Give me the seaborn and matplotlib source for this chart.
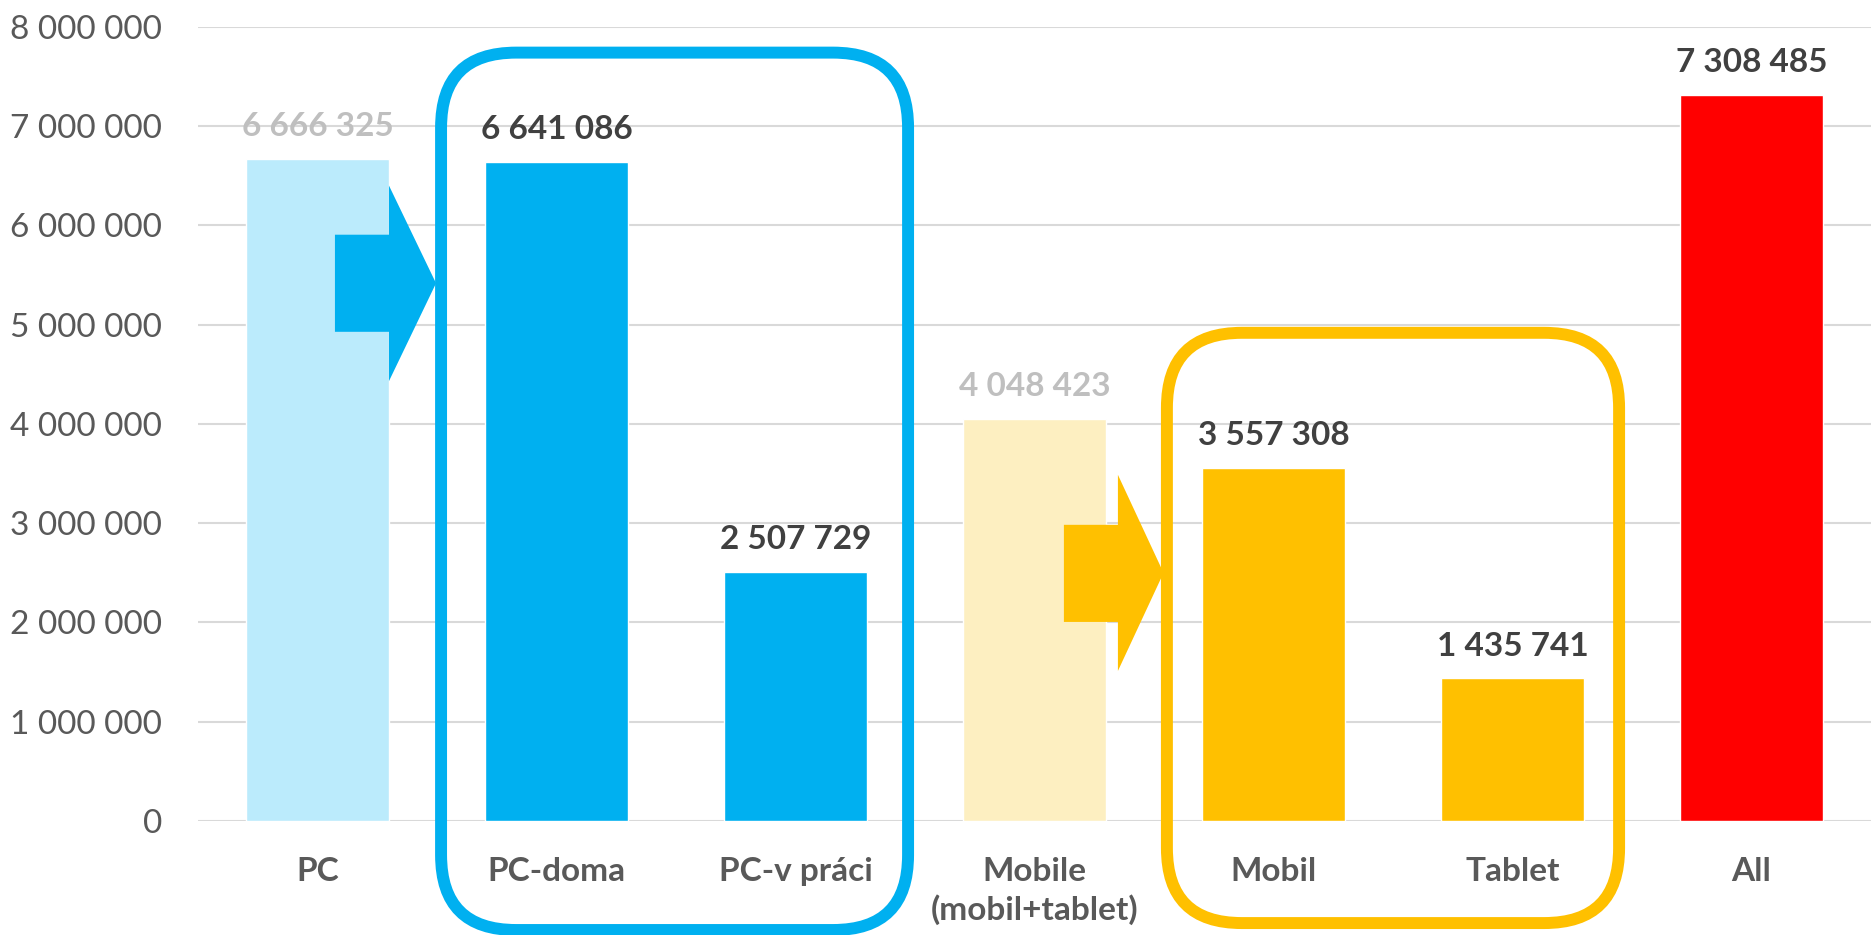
import matplotlib
matplotlib.use("Agg")
import matplotlib.pyplot as plt
import seaborn as sns
from matplotlib.patches import FancyBboxPatch, Polygon
from matplotlib.transforms import IdentityTransform
from matplotlib.ticker import FuncFormatter, MultipleLocator

categories = ["PC", "PC-doma", "PC-v práci", "Mobile\n(mobil+tablet)", "Mobil", "Tablet", "All"]
values = [6666325, 6641086, 2507729, 4048423, 3557308, 1435741, 7308485]
bar_colors = ["#BBEBFC", "#00B0F0", "#00B0F0", "#FDEFC1", "#FFC000", "#FFC000", "#FF0000"]
label_colors = ["#BFBFBF", "#404040", "#404040", "#BFBFBF", "#404040", "#404040", "#404040"]

sns.set_style("white")
plt.rcParams["font.family"] = ["Lato", "Liberation Sans", "DejaVu Sans"]

fig = plt.figure(figsize=(18.72, 9.35), dpi=100)
ax = fig.add_axes([198 / 1872, 1 - 821 / 935, 1673 / 1872, (821 - 26.7) / 935])

sns.barplot(x=categories, y=values, hue=categories, palette=bar_colors,
            legend=False, width=0.6, saturation=1, ax=ax, zorder=2)

ax.set_xlim(-0.5, len(categories) - 0.5)
ax.set_ylim(0, 8000000)
ax.yaxis.set_major_locator(MultipleLocator(1000000))
ax.yaxis.set_major_formatter(FuncFormatter(lambda v, p: f"{v:,.0f}".replace(",", " ")))
ax.grid(axis="y", color="#D9D9D9", linewidth=1.5, zorder=0)
ax.set_axisbelow(True)
sns.despine(ax=ax, left=True, bottom=True)
ax.tick_params(axis="both", length=0)
ax.tick_params(axis="y", labelsize=24, labelcolor="#595959", pad=26)
ax.tick_params(axis="x", labelsize=24, labelcolor="#595959", pad=26)
for t in ax.get_xticklabels():
    t.set_fontweight("bold")
    t.set_linespacing(1.3)
ax.set_xlabel("")
ax.set_ylabel("")

# value labels
for i, v in enumerate(values):
    ax.annotate(f"{v:,}".replace(",", " "), (i, v), xytext=(0, 16.5),
                textcoords="offset points", ha="center", va="baseline",
                fontsize=24, fontweight="bold", color=label_colors[i])

# arrows from parent bar to the group
blue_arrow = [(0.073, 4.927e6), (0.299, 4.927e6), (0.299, 4.43e6), (0.496, 5.416e6),
              (0.299, 6.40e6), (0.299, 5.905e6), (0.073, 5.905e6)]
yellow_arrow = [(3.123, 2.005e6), (3.349, 2.005e6), (3.349, 1.511e6), (3.54, 2.499e6),
                (3.349, 3.487e6), (3.349, 2.983e6), (3.123, 2.983e6)]
ax.add_patch(Polygon(blue_arrow, closed=True, facecolor="#00B0F0", edgecolor="none", zorder=3))
ax.add_patch(Polygon(yellow_arrow, closed=True, facecolor="#FFC000", edgecolor="none", zorder=3))

# rounded group frames, drawn in pixel space so corners stay round
def group_box(x0, x1, y0, y1, color):
    (px0, py0), (px1, py1) = ax.transData.transform([(x0, y0), (x1, y1)])
    box = FancyBboxPatch((px0, py0), px1 - px0, py1 - py0,
                         boxstyle="round,pad=0,rounding_size=75",
                         transform=IdentityTransform(), facecolor="none",
                         edgecolor=color, linewidth=8.6, zorder=4, clip_on=False)
    fig.add_artist(box)

group_box(0.517, 2.471, -1.098e6, 7.739e6, "#00B0F0")
group_box(3.554, 5.446, -1.028e6, 4.917e6, "#FFC000")

fig.savefig("out.png", dpi=100)
